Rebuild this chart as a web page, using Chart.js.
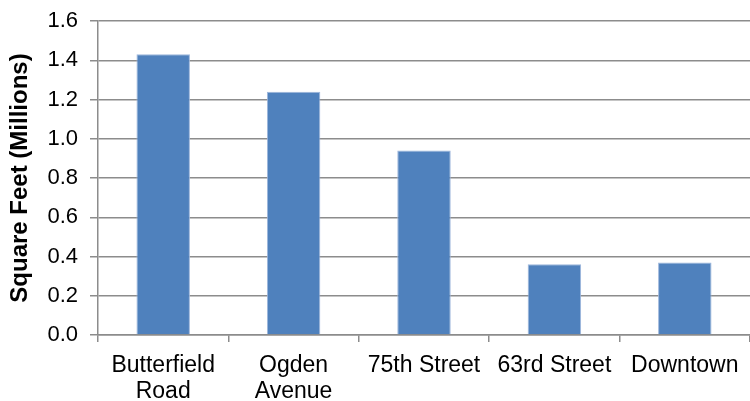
<!DOCTYPE html>
<html>
<head>
<meta charset="utf-8">
<script src="https://cdn.jsdelivr.net/npm/chart.js@4.4.1/dist/chart.umd.min.js"></script>
<style>
  html, body { margin: 0; padding: 0; background: #fff; }
  #wrap { width: 750px; height: 401px; }
</style>
</head>
<body>
<div id="wrap"><canvas id="chart" width="750" height="401"></canvas></div>
<script>
// data
const categories = [['Butterfield', 'Road'], ['Ogden', 'Avenue'], '75th Street', '63rd Street', 'Downtown']
const squareFeet = [1.43, 1.24, 0.94, 0.36, 0.37]
const yTicks = [0, 0.2, 0.4, 0.6, 0.8, 1.0, 1.2, 1.4, 1.6]

const gridGray = '#8c8c8c'
const font = 'Liberation Sans, Arial, sans-serif'

const chart = new Chart(document.getElementById('chart'), {
  type: 'bar',
  data: {
    labels: categories,
    datasets: [
      {
        label: 'Square Feet',
        data: squareFeet,
        backgroundColor: '#4f81bd',
        borderColor: '#9db6dc',
        borderWidth: 1,
        barPercentage: 0.41,
        categoryPercentage: 1,
      },
    ],
  },
  options: {
    responsive: false,
    animation: false,
    layout: { padding: { top: 21, right: 0, left: 0, bottom: 0 } },
    plugins: {
      legend: { display: false },
      tooltip: { enabled: false },
    },
    scales: {
      x: {
        grid: {
          offset: true,
          drawOnChartArea: false,
          drawTicks: true,
          tickLength: 7,
          color: gridGray,
          lineWidth: 1.5,
        },
        border: { color: gridGray, width: 1.5 },
        ticks: {
          color: '#000',
          font: { family: font, size: 23, lineHeight: 1.15 },
          padding: 10,
          maxRotation: 0,
          autoSkip: false,
        },
        afterFit: (axis) => { axis.height = 66 },
      },
      y: {
        min: 0,
        max: 1.6,
        afterBuildTicks: (axis) => {
          axis.ticks = yTicks.map((v) => ({ value: v }))
        },
        grid: {
          color: gridGray,
          lineWidth: 1.5,
          tickLength: 8,
        },
        border: { color: gridGray, width: 1.5 },
        ticks: {
          color: '#000',
          font: { family: font, size: 22, lineHeight: 0.5 },
          padding: 12,
          callback: (v) => Number(v).toFixed(1),
        },
        title: {
          display: true,
          text: 'Square Feet (Millions)',
          color: '#000',
          font: { family: font, size: 24, weight: 'bold' },
          padding: { top: 6, bottom: 0 },
        },
        afterFit: (axis) => { axis.width = 98 },
      },
    },
  },
})
</script>
</body>
</html>
